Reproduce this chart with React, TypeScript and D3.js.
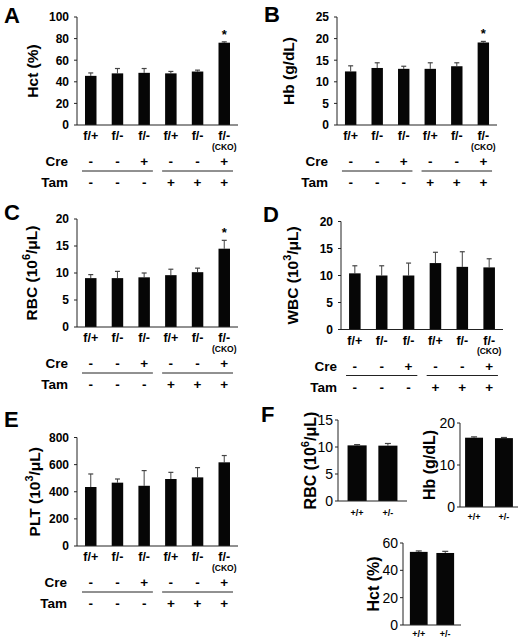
import React from 'react';
import * as d3 from 'd3';

const genotypes = ['f/+', 'f/-', 'f/-', 'f/+', 'f/-', 'f/-'];
const creRow = ['-', '-', '+', '-', '-', '+'];
const tamRow = ['-', '-', '-', '+', '+', '+'];

const hctMean = [45.5, 47.8, 48.3, 47.8, 49.5, 76.2];
const hctErr = [2.7, 4.5, 4.0, 1.8, 1.3, 0.8];
const hbMean = [12.4, 13.2, 13.0, 13.0, 13.6, 19.1];
const hbErr = [1.3, 1.2, 0.6, 1.4, 0.8, 0.25];
const rbcMean = [9.05, 9.05, 9.2, 9.6, 10.15, 14.5];
const rbcErr = [0.65, 1.25, 0.8, 1.1, 0.75, 1.55];
const wbcMean = [10.4, 10.0, 10.0, 12.3, 11.6, 11.5];
const wbcErr = [1.4, 1.8, 2.3, 2.0, 2.8, 1.6];
const pltMean = [435, 467, 444, 494, 506, 617];
const pltErr = [96, 27, 112, 49, 72, 50];

const hetGenotypes = ['+/+', '+/-'];
const fRbcMean = [10.3, 10.25];
const fRbcErr = [0.15, 0.4];
const fHbMean = [16.5, 16.4];
const fHbErr = [0.2, 0.15];
const fHctMean = [53.5, 52.7];
const fHctErr = [0.7, 1.2];

const FONT = '"Liberation Sans", Arial, Helvetica, sans-serif';
const AX = '#222';
const ERR = '#444';

type Part = { t: string; sup?: boolean };

function Title({ parts, x, y, size }: { parts: Part[]; x: number; y: number; size: number }) {
  const out: React.ReactNode[] = [];
  let raised = false;
  parts.forEach((p, i) => {
    if (p.sup) {
      out.push(
        <tspan key={i} dy={-size * 0.4} fontSize={size * 0.7}>
          {p.t}
        </tspan>
      );
      raised = true;
    } else {
      out.push(
        <tspan key={i} dy={raised ? size * 0.4 : 0}>
          {p.t}
        </tspan>
      );
      raised = false;
    }
  });
  // baseline placed so that cap glyphs are centred on x
  return (
    <text
      transform={`translate(${x + size * 0.36},${y}) rotate(-90)`}
      textAnchor="middle"
      fontFamily={FONT}
      fontWeight="bold"
      fontSize={size}
      fill="#000"
    >
      {out}
    </text>
  );
}

function Bars({ x, y, means, errs, cap }: any) {
  const bw = x.bandwidth();
  return (
    <g>
      {means.map((m: number, i: number) => {
        const bx = x(i);
        const cx = bx + bw / 2;
        const top = y(m);
        const et = y(m + errs[i]);
        return (
          <g key={i}>
            <line x1={cx} x2={cx} y1={top} y2={et} stroke={ERR} strokeWidth={1} />
            <line x1={cx - cap} x2={cx + cap} y1={et} y2={et} stroke={ERR} strokeWidth={1.2} />
            <rect x={bx} y={top} width={bw} height={y(0) - top} fill="#060606" />
          </g>
        );
      })}
    </g>
  );
}

function MainPanel(props: any) {
  const { letter, lx, ly, x0, x1, yTop, yBottom, max, step, means, errs, title, titleX, star, rowX } = props;
  const x = d3.scaleBand<number>().domain(d3.range(6)).range([x0, x1]).paddingInner(0.57).paddingOuter(0.3);
  const y = d3.scaleLinear().domain([0, max]).range([yBottom, yTop]);
  const ticks = d3.range(0, max + step / 2, step);
  const bw = x.bandwidth();
  const c = (i: number) => (x(i) as number) + bw / 2;
  return (
    <g fontFamily={FONT} fill="#000">
      <text x={lx} y={ly} fontSize={22} fontWeight="bold">
        {letter}
      </text>
      <Title parts={title} x={titleX} y={(yTop + yBottom) / 2} size={15.5} />
      {ticks.map((t) => (
        <g key={t}>
          <line x1={x0 - 3} x2={x0} y1={y(t)} y2={y(t)} stroke={AX} />
          <text x={x0 - 8} y={y(t)} dy="0.36em" textAnchor="end" fontSize={12} fontWeight="bold">
            {String(t)}
          </text>
        </g>
      ))}
      <Bars x={x} y={y} means={means} errs={errs} cap={2.5} />
      <line x1={x0} x2={x0} y1={yTop} y2={yBottom} stroke={AX} />
      <line x1={x0} x2={x1} y1={yBottom} y2={yBottom} stroke={AX} />
      {star && (
        <text x={c(5)} y={y(means[5] + errs[5]) - 3} textAnchor="middle" fontSize={13} fontWeight="bold">
          *
        </text>
      )}
      {genotypes.map((g, i) => (
        <text key={i} x={c(i)} y={yBottom + 15} textAnchor="middle" fontSize={12.5} fontWeight="bold">
          {g}
        </text>
      ))}
      <text x={c(5)} y={yBottom + 24.5} textAnchor="middle" fontSize={8.5} fontWeight="bold">
        (CKO)
      </text>
      <text x={rowX} y={yBottom + 41} textAnchor="end" fontSize={13.5} fontWeight="bold">
        Cre
      </text>
      <text x={rowX} y={yBottom + 62} textAnchor="end" fontSize={13.5} fontWeight="bold">
        Tam
      </text>
      {creRow.map((s, i) => (
        <text key={'c' + i} x={c(i)} y={yBottom + 41} textAnchor="middle" fontSize={13.5} fontWeight="bold">
          {s}
        </text>
      ))}
      {tamRow.map((s, i) => (
        <text key={'t' + i} x={c(i)} y={yBottom + 62} textAnchor="middle" fontSize={13.5} fontWeight="bold">
          {s}
        </text>
      ))}
      <line x1={(x(0) as number) - 3} x2={(x(2) as number) + bw + 3} y1={yBottom + 46} y2={yBottom + 46} stroke={AX} />
      <line x1={(x(3) as number) - 3} x2={(x(5) as number) + bw + 3} y1={yBottom + 46} y2={yBottom + 46} stroke={AX} />
    </g>
  );
}

function SmallPanel(props: any) {
  const { x0, x1, pi, po, yTop, yBottom, max, step, means, errs, title, titleX, labelDy } = props;
  const x = d3.scaleBand<number>().domain(d3.range(2)).range([x0, x1]).paddingInner(pi).paddingOuter(po);
  const y = d3.scaleLinear().domain([0, max]).range([yBottom, yTop]);
  const ticks = d3.range(0, max + step / 2, step);
  const bw = x.bandwidth();
  return (
    <g fontFamily={FONT} fill="#000">
      <Title parts={title} x={titleX} y={(yTop + yBottom) / 2} size={16} />
      <Bars x={x} y={y} means={means} errs={errs} cap={3} />
      <line x1={x0} x2={x0} y1={yTop} y2={yBottom} stroke={AX} />
      <line x1={x0} x2={x1} y1={yBottom} y2={yBottom} stroke={AX} />
      {ticks.map((t) => (
        <line key={'tk' + t} x1={x0 - 3} x2={x0} y1={y(t)} y2={y(t)} stroke={AX} />
      ))}
      {ticks.map((t) => (
        <text
          key={'tl' + t}
          x={x0 - 5}
          y={y(t) + 5}
          textAnchor="end"
          fontSize={14}
          fontWeight="normal"
          fill="#000"
        >
          {String(t)}
        </text>
      ))}
      {hetGenotypes.map((g, i) => (
        <text key={i} x={(x(i) as number) + bw / 2} y={yBottom + labelDy} textAnchor="middle" fontSize={9} fontWeight="bold">
          {g}
        </text>
      ))}
    </g>
  );
}

export default function App() {
  return (
    <svg
      width={520}
      height={639}
      viewBox="0 0 520 639"
      style={{ position: 'absolute', left: 0, top: 0, background: '#fff' }}
    >
      <rect width={520} height={639} fill="#fff" />
      <MainPanel
        letter="A" lx={4} ly={23}
        x0={77} x1={238} yTop={17} yBottom={125} max={100} step={20}
        means={hctMean} errs={hctErr} title={[{ t: 'Hct (%)' }]} titleX={32} star rowX={68}
      />
      <MainPanel
        letter="B" lx={264} ly={22}
        x0={337} x1={497} yTop={17} yBottom={125} max={25} step={5}
        means={hbMean} errs={hbErr} title={[{ t: 'Hb (g/dL)' }]} titleX={288} star rowX={328}
      />
      <MainPanel
        letter="C" lx={4} ly={220}
        x0={77} x1={238} yTop={219} yBottom={327} max={20} step={5}
        means={rbcMean} errs={rbcErr}
        title={[{ t: 'RBC (10' }, { t: '6', sup: true }, { t: '/μL)' }]} titleX={31} star rowX={68}
      />
      <MainPanel
        letter="D" lx={263} ly={222}
        x0={341} x1={503} yTop={221.5} yBottom={329.5} max={20} step={5}
        means={wbcMean} errs={wbcErr}
        title={[{ t: 'WBC (10' }, { t: '3', sup: true }, { t: '/μL)' }]} titleX={292} star={false} rowX={337}
      />
      <MainPanel
        letter="E" lx={4} ly={427}
        x0={77} x1={238} yTop={437.5} yBottom={546} max={800} step={200}
        means={pltMean} errs={pltErr}
        title={[{ t: 'PLT (10' }, { t: '3', sup: true }, { t: '/μL)' }]} titleX={34} star={false} rowX={67}
      />
      <text x={261} y={422} fontFamily={FONT} fontSize={22} fontWeight="bold">F</text>
      <SmallPanel
        x0={338} x1={407} pi={0.38} po={0.31} yTop={420} yBottom={501} max={15} step={5}
        means={fRbcMean} errs={fRbcErr}
        title={[{ t: 'RBC (10' }, { t: '6', sup: true }, { t: '/μL)' }]} titleX={310} labelDy={15}
      />
      <SmallPanel
        x0={460} x1={518} pi={0.4} po={0.17} yTop={423} yBottom={507} max={20} step={10}
        means={fHbMean} errs={fHbErr} title={[{ t: 'Hb (g/dL)' }]} titleX={429} labelDy={13}
      />
      <SmallPanel
        x0={403} x1={461} pi={0.33} po={0.26} yTop={543} yBottom={625} max={60} step={20}
        means={fHctMean} errs={fHctErr} title={[{ t: 'Hct (%)' }]} titleX={373} labelDy={12}
      />
    </svg>
  );
}
